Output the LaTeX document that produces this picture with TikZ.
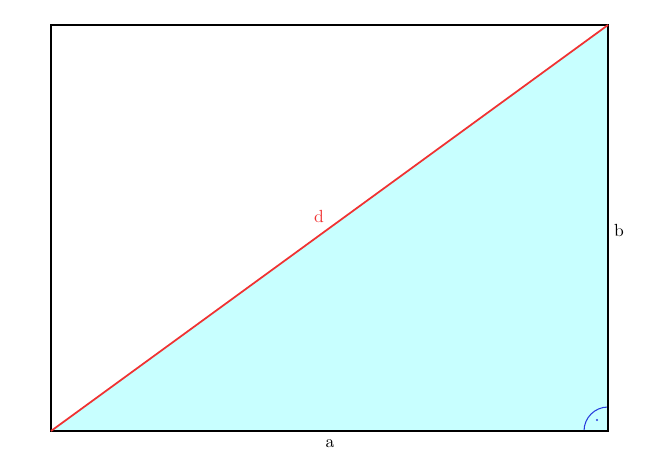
\documentclass[tikz,border=0pt]{standalone}
\usepackage{xcolor}
\usepackage{tikz}
\definecolor{legfill}{RGB}{200,255,255}
\definecolor{diagred}{RGB}{240,50,50}
\definecolor{angleblue}{RGB}{40,60,220}
\tikzset{side label/.style={inner sep=1pt,font=\normalsize},
    rect edge/.style={draw,line width=1pt},
    diag edge/.style={draw=diagred,line width=1pt}}
\begin{document}
\begin{tikzpicture}
    \useasboundingbox (0,0) rectangle (13.2,9.14);
    \coordinate (A) at (1.02,0.52);
    \coordinate (B) at (12.16,0.52);
    \coordinate (C) at (12.16,8.64);
    \coordinate (D) at (1.02,8.64);
    \fill[legfill] (A) -- (B) -- (C) -- cycle;
    \draw[angleblue,line width=0.6pt] ([xshift=-0.48cm]B) arc (180:90:0.48);
    \fill[angleblue] ([xshift=-0.22cm,yshift=0.22cm]B) circle (0.6pt);
    \path[rect edge] (A) -- (B) -- (C) -- (D) -- cycle;
    \path[diag edge] (A) -- (C);
    \node[side label] (a) at (6.6,0.26) {a};
    \node[side label] (b) at (12.38,4.54) {b};
    \node[side label,text=diagred] (d) at (6.38,4.82) {d};
\end{tikzpicture}
\end{document}
